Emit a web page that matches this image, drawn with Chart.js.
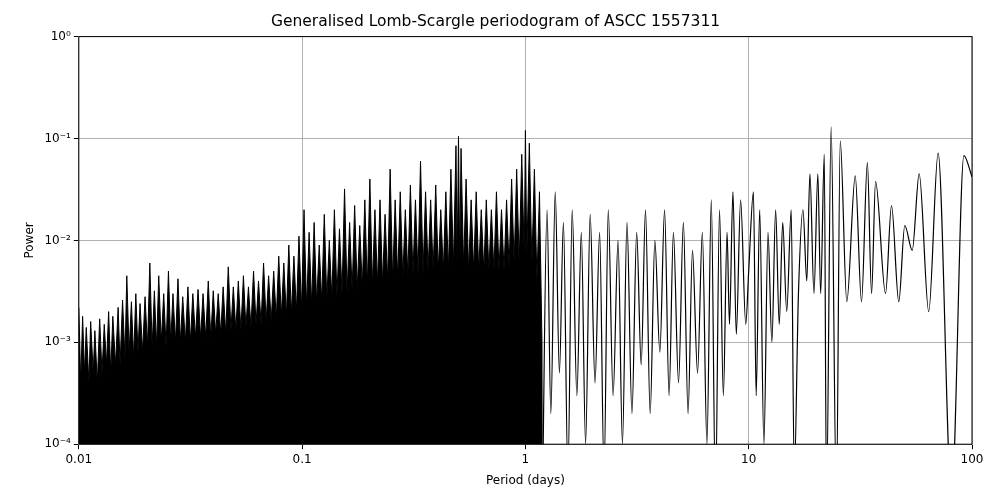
<!DOCTYPE html>
<html>
<head>
<meta charset="utf-8">
<script src="https://cdn.jsdelivr.net/npm/chart.js@4"></script>
<style>body{margin:0;background:#fff}#wrap{width:1000px;height:500px}</style>
</head>
<body>
<div id="wrap"><canvas id="myChart"></canvas></div>
<script>
// dense part of the periodogram (drawn filled to the bottom)
var denseP = [0.0100,0.0102,0.0104,0.0106,0.0108,0.0111,0.0113,0.0116,0.0118,0.0121,0.0124,0.0127,0.0130,0.0133,0.0136,0.0139,0.0142,0.0146,0.0150,0.0153,0.0157,0.0161,0.0164,0.0168,0.0172,0.0176,0.0180,0.0184,0.0188,0.0193,0.0198,0.0203,0.0208,0.0213,0.0218,0.0223,0.0228,0.0234,0.0240,0.0246,0.0252,0.0258,0.0264,0.0271,0.0278,0.0285,0.0292,0.0300,0.0308,0.0316,0.0324,0.0333,0.0342,0.0351,0.0360,0.0370,0.0380,0.0390,0.0400,0.0410,0.0421,0.0432,0.0443,0.0455,0.0467,0.0480,0.0492,0.0505,0.0518,0.0532,0.0546,0.0560,0.0575,0.0590,0.0606,0.0622,0.0638,0.0655,0.0672,0.0690,0.0708,0.0727,0.0746,0.0766,0.0786,0.0807,0.0828,0.0850,0.0872,0.0895,0.0919,0.0943,0.0968,0.0994,0.1020,0.1047,0.1075,0.1103,0.1132,0.1162,0.1193,0.1224,0.1257,0.1290,0.1324,0.1359,0.1395,0.1432,0.1470,0.1509,0.1549,0.1590,0.1632,0.1675,0.1719,0.1765,0.1812,0.1860,0.1909,0.1959,0.2011,0.2064,0.2119,0.2175,0.2233,0.2292,0.2352,0.2415,0.2479,0.2544,0.2611,0.2680,0.2751,0.2824,0.2899,0.2976,0.3054,0.3135,0.3218,0.3303,0.3391,0.3480,0.3572,0.3667,0.3764,0.3863,0.3966,0.4070,0.4178,0.4289,0.4402,0.4519,0.4638,0.4761,0.4887,0.4950,0.5016,0.5080,0.5149,0.5285,0.5425,0.5568,0.5715,0.5866,0.6021,0.6180,0.6344,0.6511,0.6683,0.6860,0.7041,0.7227,0.7418,0.7614,0.7816,0.8022,0.8234,0.8452,0.8675,0.8904,0.9140,0.9381,0.9629,0.9884,1.0000,1.0145,1.0413,1.0688,1.0971,1.1261,1.1559,1.1864,1.1900];
var denseY = [0.0022,0.0004,0.0018,0.0005,0.0014,0.0004,0.0016,0.0005,0.0013,0.0004,0.0017,0.0005,0.0015,0.0006,0.0020,0.0005,0.0018,0.0006,0.0022,0.0006,0.0026,0.0007,0.0045,0.0008,0.0025,0.0007,0.0030,0.0008,0.0024,0.0008,0.0028,0.0009,0.0060,0.0009,0.0032,0.0009,0.0045,0.0010,0.0030,0.0009,0.0050,0.0010,0.0030,0.0010,0.0042,0.0010,0.0028,0.0010,0.0035,0.0010,0.0030,0.0011,0.0033,0.0011,0.0030,0.0011,0.0040,0.0011,0.0032,0.0012,0.0030,0.0012,0.0035,0.0012,0.0055,0.0013,0.0035,0.0013,0.0040,0.0013,0.0045,0.0014,0.0035,0.0014,0.0050,0.0015,0.0040,0.0015,0.0060,0.0016,0.0045,0.0016,0.0050,0.0017,0.0070,0.0018,0.0060,0.0018,0.0090,0.0019,0.0070,0.0020,0.0110,0.0021,0.0200,0.0022,0.0120,0.0023,0.0150,0.0024,0.0090,0.0025,0.0180,0.0026,0.0100,0.0027,0.0200,0.0028,0.0130,0.0030,0.0320,0.0030,0.0150,0.0032,0.0220,0.0033,0.0140,0.0034,0.0250,0.0035,0.0400,0.0036,0.0200,0.0037,0.0250,0.0038,0.0180,0.0040,0.0500,0.0040,0.0250,0.0042,0.0300,0.0043,0.0200,0.0045,0.0350,0.0046,0.0250,0.0047,0.0600,0.0048,0.0300,0.0050,0.0250,0.0050,0.0350,0.0050,0.0200,0.0050,0.0300,0.0050,0.0500,0.0055,0.0850,0.0060,0.1050,0.0060,0.0800,0.0055,0.0400,0.0050,0.0250,0.0050,0.0300,0.0050,0.0200,0.0050,0.0250,0.0050,0.0200,0.0050,0.0300,0.0050,0.0200,0.0050,0.0250,0.0055,0.0400,0.0060,0.0500,0.0060,0.0700,0.0070,0.1200,0.0070,0.0900,0.0060,0.0500,0.0040,0.0300,0.0010,0.00002];

// sparse part (line only)
var sparseP = [1.19,1.25,1.3,1.36,1.42,1.48,1.55,1.62,1.7,1.78,1.86,1.95,2.05,2.15,2.25,2.35,2.47,2.6,2.72,2.85,3.0,3.15,3.3,3.45,3.62,3.8,4.0,4.2,4.4,4.6,4.85,5.1,5.35,5.6,5.9,6.2,6.5,6.8,7.1,7.4,7.7,8.0,8.2,8.5,8.8,9.2,9.7,10.0,10.5,10.8,11.2,11.7,12.2,12.7,13.2,13.7,14.2,14.8,15.5,16.0,16.7,17.5,18.2,18.8,19.6,20.4,21.0,21.8,22.3,23.4,24.7,25.7,27.5,30,32,34,35.5,37,41,43.6,47,50,54,58,64,70.5,81,92,100];
var sparseY = [0.00002,0.02,0.0002,0.03,0.0005,0.015,0.00005,0.02,0.0003,0.012,0.0001,0.018,0.0004,0.012,0.00005,0.02,0.0003,0.01,0.0001,0.015,0.0002,0.012,0.0006,0.02,0.0002,0.01,0.0008,0.02,0.0003,0.012,0.0004,0.015,0.0002,0.008,0.0005,0.012,0.0001,0.025,0.00003,0.02,0.0003,0.012,0.0015,0.03,0.0012,0.025,0.0015,0.005,0.03,0.0003,0.02,0.0001,0.012,0.001,0.02,0.0015,0.015,0.002,0.02,0.00005,0.003,0.02,0.004,0.045,0.003,0.045,0.003,0.07,0.00003,0.13,0.00003,0.095,0.0025,0.043,0.0025,0.058,0.003,0.038,0.003,0.022,0.0025,0.014,0.008,0.045,0.002,0.072,0.00003,0.068,0.042];

var xTicks = [0.01, 0.1, 1, 10, 100];
var yTicks = [0.0001, 0.001, 0.01, 0.1, 1];
var yLabels = ['10\u207B\u2074', '10\u207B\u00B3', '10\u207B\u00B2', '10\u207B\u00B9', '10\u2070'];

function pts(xs, ys) {
	var out = [];
	for (var i = 0; i < xs.length; i++) out.push({x: xs[i], y: ys[i]});
	return out;
}

var frame = {
	id: 'frame',
	afterDraw: function(c) {
		var a = c.chartArea, ctx = c.ctx;
		ctx.save();
		ctx.strokeStyle = '#000';
		ctx.lineWidth = 1;
		ctx.strokeRect(a.left, a.top, a.right - a.left, a.bottom - a.top);
		ctx.restore();
	}
};

Chart.defaults.font.family = 'DejaVu Sans';
Chart.defaults.color = '#000';

new Chart(document.getElementById('myChart'), {
	type: 'line',
	data: {
		datasets: [
			{data: pts(denseP, denseY), borderColor: '#000', backgroundColor: '#000', borderWidth: 1, pointRadius: 0, fill: 'start', tension: 0},
			{data: pts(sparseP, sparseY), borderColor: '#000', borderWidth: 1.2, pointRadius: 0, fill: false, cubicInterpolationMode: 'monotone'}
		]
	},
	options: {
		responsive: true,
		maintainAspectRatio: false,
		animation: false,
		layout: {padding: {left: 19, right: 28, top: 0, bottom: 8}},
		plugins: {
			legend: {display: false},
			tooltip: {enabled: false},
			title: {display: true, text: 'Generalised Lomb-Scargle periodogram of ASCC 1557311', font: {size: 15.5, weight: 'normal'}, padding: {top: 13, bottom: 5}}
		},
		scales: {
			x: {
				type: 'logarithmic', min: 0.01, max: 100,
				afterBuildTicks: function(s) { s.ticks = xTicks.map(function(v) { return {value: v}; }); },
				ticks: {callback: function(v) { return String(v); }, font: {size: 12}, maxRotation: 0},
				grid: {color: '#b0b0b0', tickColor: '#000', tickLength: 5},
				title: {display: true, text: 'Period (days)', font: {size: 12}}
			},
			y: {
				type: 'logarithmic', min: 0.0001, max: 1,
				afterBuildTicks: function(s) { s.ticks = yTicks.map(function(v) { return {value: v}; }); },
				ticks: {callback: function(v) { return yLabels[yTicks.indexOf(v)]; }, font: {size: 12}},
				grid: {color: '#b0b0b0', tickColor: '#000', tickLength: 5},
				title: {display: true, text: 'Power', font: {size: 12}}
			}
		}
	},
	plugins: [frame]
});
</script>
</body>
</html>
